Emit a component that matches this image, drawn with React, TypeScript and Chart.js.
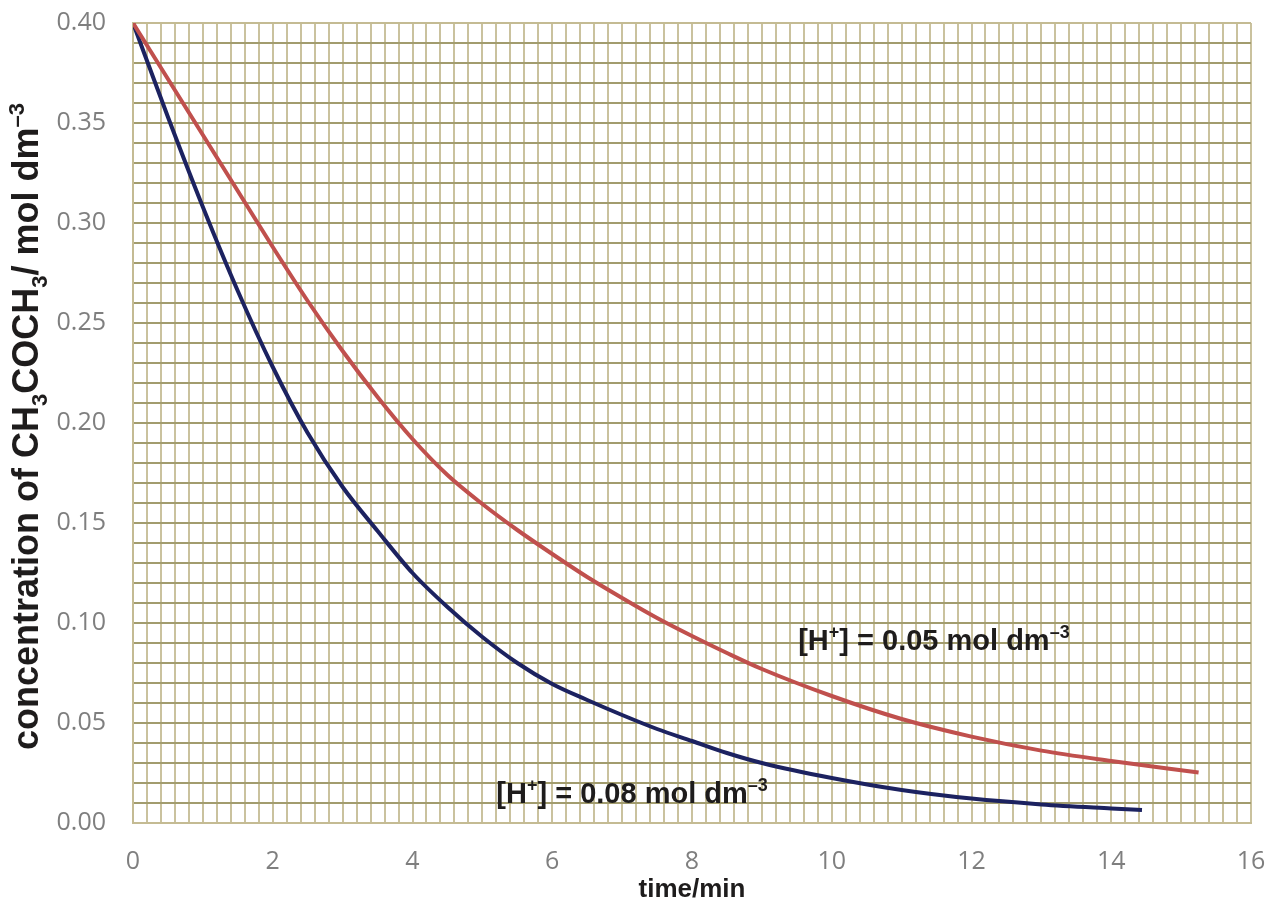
import { useEffect, useRef } from 'react';
import { Chart, registerables } from 'chart.js';

Chart.register(...registerables);

// ---- data ----
const redTime = [0, 0.5, 1, 1.5, 2, 2.5, 3, 3.5, 4, 4.5, 5, 5.5, 6, 6.5, 7, 7.5, 8, 8.5, 9, 10, 11, 12, 13, 14, 15.25];
const redConc = [0.4, 0.372, 0.344, 0.316, 0.288, 0.261, 0.236, 0.213, 0.192, 0.174, 0.1595, 0.1465, 0.1345, 0.123, 0.1125, 0.1025, 0.0935, 0.085, 0.077, 0.0635, 0.052, 0.0432, 0.0362, 0.031, 0.0252];

const blueTime = [0, 0.5, 1, 1.5, 2, 2.5, 3, 3.5, 4, 4.5, 5, 5.5, 6, 6.5, 7, 7.5, 8, 8.5, 9, 10, 11, 12, 13, 14, 14.44];
const blueConc = [0.4, 0.353, 0.308, 0.266, 0.228, 0.195, 0.168, 0.146, 0.125, 0.108, 0.093, 0.08, 0.0695, 0.0615, 0.054, 0.047, 0.041, 0.035, 0.03, 0.0225, 0.0165, 0.0122, 0.0093, 0.0073, 0.0065];

const xMajorTicks = [0, 2, 4, 6, 8, 10, 12, 14, 16];
const yMajorTicks = [0, 0.05, 0.1, 0.15, 0.2, 0.25, 0.3, 0.35, 0.4];

type Seg = { t: string; s?: 'sub' | 'sup' };

const yTitle: Seg[] = [
  { t: 'concentration of CH' },
  { t: '3', s: 'sub' },
  { t: 'COCH' },
  { t: '3', s: 'sub' },
  { t: '/ mol dm' },
  { t: '\u20133', s: 'sup' },
];
const xTitle: Seg[] = [{ t: 'time/min' }];

const label08: Seg[] = [
  { t: '[H' },
  { t: '+', s: 'sup' },
  { t: '] = 0.08 mol dm' },
  { t: '\u20133', s: 'sup' },
];
const label05: Seg[] = [
  { t: '[H' },
  { t: '+', s: 'sup' },
  { t: '] = 0.05 mol dm' },
  { t: '\u20133', s: 'sup' },
];

// annotation anchors in data coordinates (left edge, baseline)
const annotations = [
  { segs: label08, x: 5.2, y: 0.01 },
  { segs: label05, x: 9.52, y: 0.0865 },
];

const FONT = '"Liberation Sans", Arial, sans-serif';
const TEXT = '#1e1c1c';
const SMALL = 0.62;

function drawRich(ctx: CanvasRenderingContext2D, segs: Seg[], x: number, y: number, size: number) {
  let cx = x;
  ctx.textBaseline = 'alphabetic';
  ctx.textAlign = 'left';
  ctx.fillStyle = TEXT;
  for (const sg of segs) {
    ctx.font = sg.s ? `bold ${Math.round(size * SMALL)}px ${FONT}` : `bold ${size}px ${FONT}`;
    const dy = sg.s === 'sub' ? size * 0.25 : sg.s === 'sup' ? -size * 0.4 : 0;
    ctx.fillText(sg.t, cx, y + dy);
    cx += ctx.measureText(sg.t).width;
  }
}

function richWidth(ctx: CanvasRenderingContext2D, segs: Seg[], size: number) {
  let w = 0;
  for (const sg of segs) {
    ctx.font = sg.s ? `bold ${Math.round(size * SMALL)}px ${FONT}` : `bold ${size}px ${FONT}`;
    w += ctx.measureText(sg.t).width;
  }
  return w;
}

const textPlugin = {
  id: 'richText',
  afterDraw(chart: any) {
    const ctx: CanvasRenderingContext2D = chart.ctx;
    const xs = chart.scales.x;
    const ys = chart.scales.y;
    ctx.save();
    const xSize = 26;
    const xw = richWidth(ctx, xTitle, xSize);
    drawRich(ctx, xTitle, (chart.chartArea.left + chart.chartArea.right) / 2 - xw / 2, 897, xSize);
    ctx.save();
    ctx.translate(38, 750);
    ctx.rotate(-Math.PI / 2);
    drawRich(ctx, yTitle, 0, 0, 36);
    ctx.restore();
    for (const a of annotations) {
      drawRich(ctx, a.segs, xs.getPixelForValue(a.x), ys.getPixelForValue(a.y), 29);
    }
    ctx.restore();
  },
};

const near = (v: number, arr: number[]) => arr.some((m) => Math.abs(v - m) < 1e-6);

const zeroPad = (s: any) => {
  s.paddingTop = 0;
  s.paddingBottom = 0;
  s.paddingLeft = 0;
  s.paddingRight = 0;
};

export default function App() {
  const ref = useRef<HTMLCanvasElement>(null);
  useEffect(() => {
    if (!ref.current) return;
    const chart = new Chart(ref.current, {
      type: 'line',
      data: {
        datasets: [
          {
            label: '[H+] = 0.05 mol dm-3',
            data: redTime.map((t, i) => ({ x: t, y: redConc[i] })),
            borderColor: '#C0504D',
            borderWidth: 4,
            pointRadius: 0,
            cubicInterpolationMode: 'monotone',
            fill: false,
          },
          {
            label: '[H+] = 0.08 mol dm-3',
            data: blueTime.map((t, i) => ({ x: t, y: blueConc[i] })),
            borderColor: '#1C2260',
            borderWidth: 4,
            pointRadius: 0,
            cubicInterpolationMode: 'monotone',
            fill: false,
          },
        ],
      },
      options: {
        responsive: false,
        animation: false,
        layout: { padding: { left: 0, top: 23, right: 20, bottom: 0 } },
        plugins: { legend: { display: false }, tooltip: { enabled: false } },
        scales: {
          x: {
            type: 'linear',
            min: 0,
            max: 16,
            afterFit: (s: any) => {
              s.height = 89;
              zeroPad(s);
            },
            ticks: {
              stepSize: 0.2,
              autoSkip: false,
              maxRotation: 0,
              padding: 24,
              color: '#7F7F7F',
              font: { family: '"Open Sans", sans-serif', size: 25 },
              callback: (v: any) => (near(Number(v), xMajorTicks) ? String(Math.round(Number(v))) : ''),
            },
            grid: {
              drawTicks: false,
              color: '#CAC29E',
              lineWidth: 2,
            },
            border: { display: true, color: '#C4BB93', width: 2 },
          },
          y: {
            type: 'linear',
            min: 0,
            max: 0.4,
            afterFit: (s: any) => {
              s.width = 133;
              zeroPad(s);
            },
            ticks: {
              stepSize: 0.01,
              autoSkip: false,
              padding: 27,
              color: '#7F7F7F',
              font: { family: '"Open Sans", sans-serif', size: 25 },
              callback: (v: any) => (near(Number(v), yMajorTicks) ? Number(v).toFixed(2) : ''),
            },
            grid: {
              drawTicks: false,
              color: (c: any) => {
                const v = c.tick ? c.tick.value : 0;
                return Math.abs(v) < 1e-6 || Math.abs(v - 0.4) < 1e-6 ? '#C4BB93' : '#A29C6E';
              },
              lineWidth: 2,
            },
            border: { display: true, color: '#C4BB93', width: 2 },
          },
        },
      },
      plugins: [textPlugin],
    });
    return () => chart.destroy();
  }, []);
  return (
    <div style={{ position: 'absolute', left: 0, top: 0, width: 1271, height: 912, background: '#fff' }}>
      <canvas ref={ref} width={1271} height={912} />
    </div>
  );
}
